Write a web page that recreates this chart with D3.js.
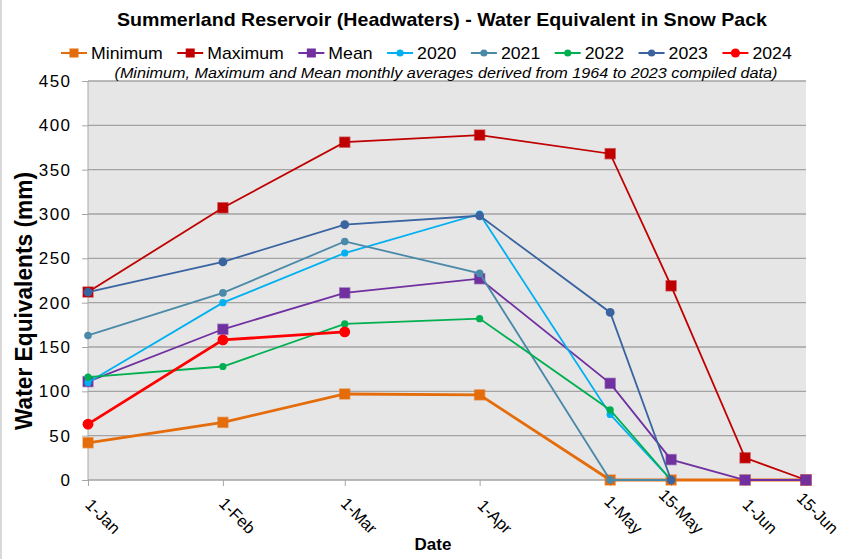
<!DOCTYPE html>
<html>
<head>
    <title>Summerland Reservoir Snow Pack</title>
    <script src="https://d3js.org/d3.v7.min.js"></script>
    <style>
      body{ margin:0; background:white; }
      text{ font-family:"Liberation Sans", Arial, sans-serif; fill:#000; }
      .title{ font-size:18.5px; font-weight:bold; }
      .legend text{ font-size:17px; }
      .note{ font-size:14px; font-style:italic; }
      .ylab{ font-size:23px; font-weight:bold; }
      .xlab{ font-size:17px; font-weight:bold; }
      .tick text{ font-size:17px; }
      .xaxis .tick text{ font-size:16.5px; }
      .grid line{ stroke:#a3a3a3; stroke-width:1.3; }
      .axis path, .axis line{ stroke:#a6a6a6; stroke-width:1; }
      path.series{ fill:none; }
    </style>
</head>
<body>
<script>
var dates=["1-Jan","1-Feb","1-Mar","1-Apr","1-May","15-May","1-Jun","15-Jun"];
var yTicks=[0,50,100,150,200,250,300,350,400,450];

var minimum=[42,65,97,96,0,0,0,0];
var maximum=[212,307,381,389,368,219,25,0];
var mean=[111,170,211,227,109,23,0,0];
var y2020=[110,200,256,300,74,0,null,null];
var y2021=[163,211,269,233,0,0,null,null];
var y2022=[116,128,176,182,79,0,null,null];
var y2023=[212,246,288,298,189,0,null,null];
var y2024=[63,158,167,null,null,null,null,null];

var seriesNames=["Minimum","Maximum","Mean","2020","2021","2022","2023","2024"];
var seriesValues=[minimum,maximum,mean,y2020,y2021,y2022,y2023,y2024];
var seriesColors=["#e46c0a","#c00000","#7030a0","#00b0f0","#4a8aa8","#00b050","#3a64a0","#ff0000"];
var seriesShape=["square","square","square","circle","circle","circle","circle","circle"];
var lineWidths=[2.8,1.8,1.8,1.8,1.8,1.8,1.8,2.8];
var markerSize=[10,10,10,3.6,3.8,3.6,4.4,5.4];

var W=851,H=559;
var plotL=88,plotR=806,plotT=81,plotB=480;

var parse=d3.timeParse("%d-%b");
var dateObjs=dates.map(parse);

var svg=d3.select("body").append("svg").attr("width",W).attr("height",H);

svg.append("line").attr("x1",1).attr("x2",1).attr("y1",0).attr("y2",H)
  .attr("stroke","#d9d9d9").attr("stroke-width",2);

var x=d3.scaleTime().domain([dateObjs[0],dateObjs[dateObjs.length-1]]).range([plotL,plotR]);
var y=d3.scaleLinear().domain([0,450]).range([plotB,plotT]);

// plot area
svg.append("rect").attr("x",plotL).attr("y",plotT).attr("width",plotR-plotL).attr("height",plotB-plotT)
  .attr("fill","#e6e6e6");

svg.append("g").attr("class","grid").selectAll("line").data(yTicks).enter().append("line")
  .attr("x1",plotL).attr("x2",plotR).attr("y1",function(d){return y(d)}).attr("y2",function(d){return y(d)});

// y axis
var yAxis=svg.append("g").attr("class","axis").attr("transform","translate("+plotL+",0)")
  .call(d3.axisLeft(y).tickValues(yTicks).tickSize(6).tickPadding(12));
yAxis.select(".domain").remove();
yAxis.append("line").attr("x1",0).attr("x2",0).attr("y1",plotT).attr("y2",plotB).attr("stroke","#a6a6a6");
yAxis.selectAll(".tick text").attr("textLength",function(){return this.getComputedTextLength()*1.1});

// x axis
var xAxis=svg.append("g").attr("class","axis xaxis").attr("transform","translate(0,"+plotB+")")
  .call(d3.axisBottom(x).tickValues(dateObjs).tickSize(6).tickFormat(function(d,i){return dates[i]}));
xAxis.select(".domain").remove();
xAxis.selectAll(".tick text")
  .attr("text-anchor","end")
  .attr("y",0).attr("dy",0)
  .attr("transform","translate(25,55) rotate(45)");

// series
var line=d3.line().defined(function(d){return d.v!=null}).x(function(d){return x(d.date)}).y(function(d){return y(d.v)});

seriesValues.forEach(function(vals,k){
  var pts=vals.map(function(v,i){return {date:dateObjs[i],v:v}});
  var g=svg.append("g");
  g.append("path").attr("class","series").attr("d",line(pts))
    .attr("stroke",seriesColors[k]).attr("stroke-width",lineWidths[k]);
  var good=pts.filter(function(d){return d.v!=null});
  if(seriesShape[k]=="square"){
    g.selectAll("rect").data(good).enter().append("rect")
      .attr("x",function(d){return x(d.date)-markerSize[k]/2})
      .attr("y",function(d){return y(d.v)-markerSize[k]/2})
      .attr("width",markerSize[k]).attr("height",markerSize[k])
      .attr("fill",seriesColors[k]).attr("stroke",seriesColors[k]).attr("stroke-opacity",0.5).attr("stroke-width",1.5);
  } else {
    g.selectAll("circle").data(good).enter().append("circle")
      .attr("cx",function(d){return x(d.date)}).attr("cy",function(d){return y(d.v)})
      .attr("r",markerSize[k]).attr("fill",seriesColors[k]);
  }
});

// titles
svg.append("text").attr("class","title").attr("x",442).attr("y",26).attr("text-anchor","middle")
  .attr("textLength",650).attr("lengthAdjust","spacingAndGlyphs")
  .text("Summerland Reservoir (Headwaters) - Water Equivalent in Snow Pack");
svg.append("text").attr("class","note").attr("x",446).attr("y",78).attr("text-anchor","middle")
  .attr("textLength",663).attr("lengthAdjust","spacingAndGlyphs")
  .text("(Minimum, Maximum and Mean monthly averages derived from 1964 to 2023 compiled data)");
svg.append("text").attr("class","ylab").attr("text-anchor","middle")
  .attr("transform","translate(32,301) rotate(-90)")
  .attr("textLength",258).attr("lengthAdjust","spacingAndGlyphs")
  .text("Water Equivalents (mm)");
svg.append("text").attr("class","xlab").attr("x",433).attr("y",550).attr("text-anchor","middle").text("Date");

// legend
var legend=svg.append("g").attr("class","legend");
var lx=61;
seriesNames.forEach(function(name,k){
  var item=legend.append("g").attr("transform","translate("+lx+",53)");
  item.append("line").attr("x1",0).attr("x2",26).attr("y1",0).attr("y2",0)
    .attr("stroke",seriesColors[k]).attr("stroke-width",2);
  if(seriesShape[k]=="square"){
    item.append("rect").attr("x",8.5).attr("y",-4.5).attr("width",9).attr("height",9).attr("fill",seriesColors[k]);
  } else {
    item.append("circle").attr("cx",13).attr("cy",0).attr("r",k==7?4.6:3.6).attr("fill",seriesColors[k]);
  }
  var t=item.append("text").attr("x",30).attr("y",6).text(name);
  var w=t.node().getComputedTextLength()*1.04;
  t.attr("textLength",w).attr("lengthAdjust","spacingAndGlyphs");
  lx+=30+w+14.5;
});
</script>
</body>
</html>
